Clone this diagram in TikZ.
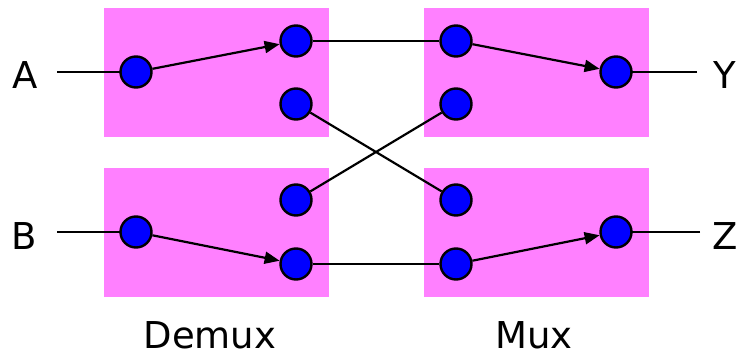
\documentclass[tikz,border=0pt]{standalone}
\usepackage{fontspec}
\setmainfont{DejaVu Sans}
\usetikzlibrary{arrows.meta}
\definecolor{boxpink}{HTML}{FF80FF}
\definecolor{dotblue}{HTML}{0000FF}
\begin{document}
\begin{tikzpicture}[x=1pt,y=-1pt,
  panel/.style={fill=boxpink,draw=none},
  dot/.style={circle,fill=dotblue,draw=black,line width=2.4pt,minimum size=31pt,inner sep=0pt},
  wire/.style={line width=2.2pt},
  arr/.style={wire,-{Triangle[length=15pt,width=12pt]}},
  lbl/.style={font=\fontsize{37}{40}\selectfont,inner sep=0pt}]
\useasboundingbox (0,0) rectangle (737,358);
% panels
\fill[panel] (104,8) rectangle (329,137);
\fill[panel] (424,8) rectangle (649,137);
\fill[panel] (104,168) rectangle (329,297);
\fill[panel] (424,168) rectangle (649,297);
% labels
\node[lbl] (tA) at (25,75) {A};
\node[lbl] (tB) at (24,236) {B};
\node[lbl] (tY) at (725,75) {Y};
\node[lbl] (tZ) at (725,236) {Z};
\node[lbl] (tDemux) at (210,335) {Demux};
\node[lbl] (tMux) at (534,335) {Mux};
\coordinate (aEnd) at (57,72);
\coordinate (bEnd) at (57,232);
\coordinate (yEnd) at (697,72);
\coordinate (zEnd) at (700,232);
% wires behind dots
\draw[wire] (aEnd) -- (136,72);
\draw[wire] (bEnd) -- (136,232);
\draw[wire] (yEnd) -- (616,72);
\draw[wire] (zEnd) -- (616,232);
% dots
\node[dot] (a) at (136,72) {};
\node[dot] (d1) at (296,41) {};
\node[dot] (d2) at (296,104) {};
\node[dot] (m1) at (456,41) {};
\node[dot] (m2) at (456,104) {};
\node[dot] (y) at (616,72) {};
\node[dot] (b) at (136,232) {};
\node[dot] (d3) at (296,200) {};
\node[dot] (d4) at (296,264) {};
\node[dot] (m3) at (456,200) {};
\node[dot] (m4) at (456,264) {};
\node[dot] (z) at (616,232) {};
% connectors
\draw[arr] (a) -- (d1);
\draw[wire] (d1) -- (m1);
\draw[arr] (m1) -- (y);
\draw[wire] (d2) -- (m3);
\draw[wire] (d3) -- (m2);
\draw[arr] (b) -- (d4);
\draw[wire] (d4) -- (m4);
\draw[arr] (m4) -- (z);
\end{tikzpicture}
\end{document}
